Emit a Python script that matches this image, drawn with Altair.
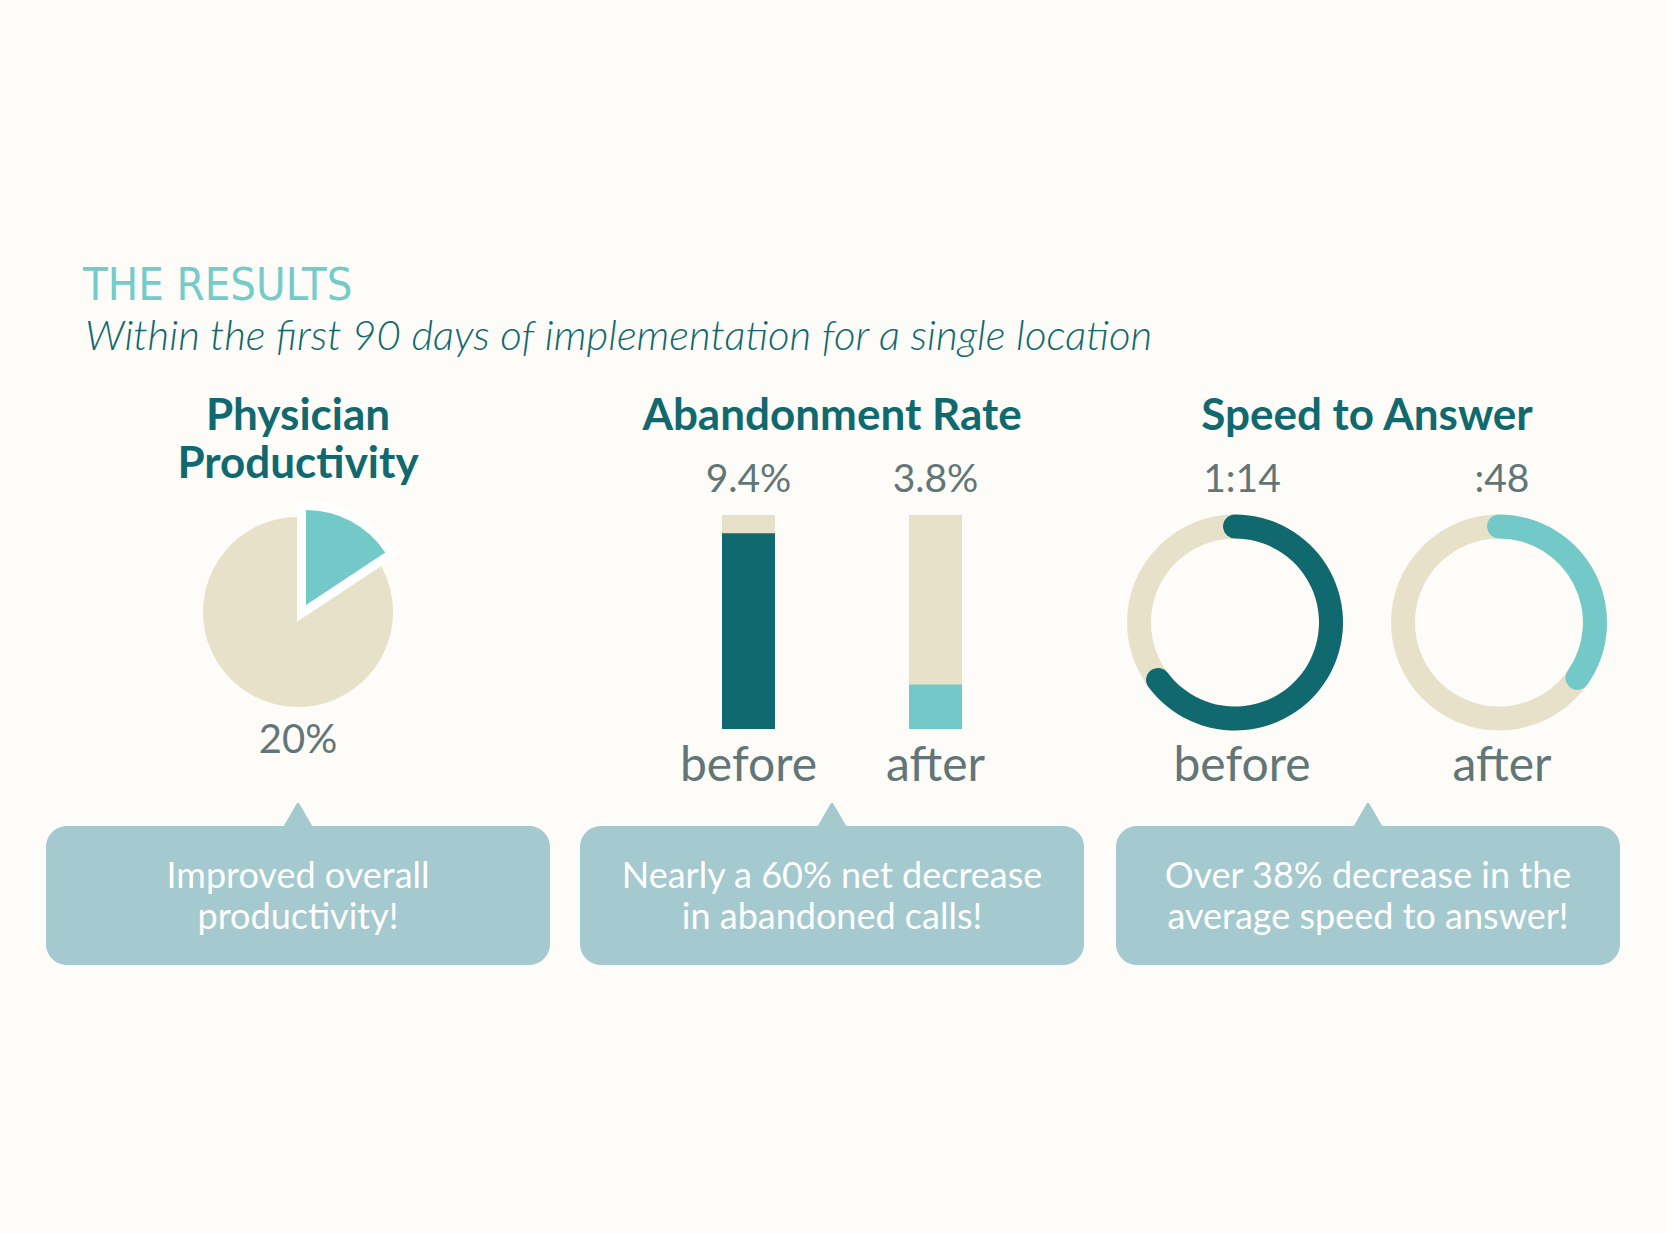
import math
import altair as alt
import pandas as pd

W, H = 1667, 1234
BG = "#FDFCF8"
DARK = "#10696F"
TEAL = "#72C9C8"
BEIGE = "#E8E1CA"
GRAY = "#627577"
BUBBLE = "#A4C9CE"
TITLE_C = "#74CBCA"
FONT = "Lato"

# ---------------- data ----------------
title = "THE RESULTS"
subtitle = "Within the first 90 days of implementation for a single location"
headings = ["Physician\nProductivity", "Abandonment Rate", "Speed to Answer"]
bubble_texts = [
    "Improved overall\nproductivity!",
    "Nearly a 60% net decrease\nin abandoned calls!",
    "Over 38% decrease in the\naverage speed to answer!",
]

pie_parts = ["gain", "rest"]
pie_share = [15.7, 84.3]
pie_label = "20%"

bar_phase = ["before", "after"]
bar_labels = ["9.4%", "3.8%"]
bar_fill = [91.5, 20.8]

ring_phase = ["before", "after"]
ring_labels = ["1:14", ":48"]
ring_fill = [64.8, 34.8]

# ---------------- helpers ----------------
ONE = alt.Data(values=[{}])
TAU = 2 * math.pi
theta_scale = alt.Scale(domain=[0, 100], range=[0, TAU])

VAL_SIZE = 39
PHASE_SIZE = 48


def text(x, y, s, size, color, weight="normal", style="normal", font=FONT,
         align="center", line_height=None):
    kw = dict(font=font, fontSize=size, color=color, fontWeight=weight,
              fontStyle=style, align=align, baseline="alphabetic")
    if "\n" in s:
        kw["lineBreak"] = "\n"
        kw["lineHeight"] = line_height or size * 1.2
    return alt.Chart(ONE).mark_text(**kw).encode(
        x=alt.value(x), y=alt.value(y), text=alt.value(s))


layers = []

# title / subtitle
layers.append(text(83, 300, title, 45, TITLE_C, weight="normal",
                   font="DejaVu Sans Condensed, Liberation Sans Narrow, sans-serif",
                   align="left"))
layers.append(text(85, 350, subtitle, 42, DARK, weight=300, style="italic",
                   align="left"))

# headings
head_x = [298, 832, 1367]
layers.append(text(head_x[0], 430, headings[0], 44, DARK, weight="bold",
                   line_height=48))
layers.append(text(head_x[1], 430, headings[1], 44, DARK, weight="bold"))
layers.append(text(head_x[2], 430, headings[2], 44, DARK, weight="bold"))

# ---------------- pie ----------------
pie_df = pd.DataFrame({"part": pie_parts, "share": pie_share})
pie_df["end"] = pie_df["share"].cumsum()
pie_df["start"] = pie_df["end"] - pie_df["share"]

pie_base = alt.Chart(pie_df)
PCX, PCY = 298, 612
layers.append(
    pie_base.transform_filter("datum.part == 'rest'")
    .mark_arc(outerRadius=95, fill=BEIGE)
    .encode(theta=alt.Theta("start:Q", scale=theta_scale), theta2="end:Q",
            x=alt.value(PCX), y=alt.value(PCY)))
layers.append(
    pie_base.transform_filter("datum.part == 'gain'")
    .mark_arc(outerRadius=95, fill="white", stroke="white", strokeWidth=18,
              strokeJoin="miter")
    .encode(theta=alt.Theta("start:Q", scale=theta_scale), theta2="end:Q",
            x=alt.value(PCX + 8), y=alt.value(PCY - 7)))
layers.append(
    pie_base.transform_filter("datum.part == 'gain'")
    .mark_arc(outerRadius=95, fill=TEAL)
    .encode(theta=alt.Theta("start:Q", scale=theta_scale), theta2="end:Q",
            x=alt.value(PCX + 8), y=alt.value(PCY - 7)))
layers.append(text(PCX, 753, pie_label, 40, GRAY))

# ---------------- bars ----------------
bar_df = pd.DataFrame({"phase": bar_phase, "label": bar_labels,
                       "fill": bar_fill, "full": [100] * len(bar_phase)})
bx = alt.X("phase:N", axis=None,
           scale=alt.Scale(domain=bar_phase, range=[722, 962],
                           paddingInner=0.7166, paddingOuter=0))
yscale = alt.Scale(domain=[0, 100], range=[729, 515])
bars_base = alt.Chart(bar_df)
layers.append(bars_base.mark_bar(fill=BEIGE).encode(
    x=bx, y=alt.Y("full:Q", scale=yscale, axis=None)))
layers.append(bars_base.mark_bar().encode(
    x=bx, y=alt.Y("fill:Q", scale=yscale, axis=None),
    color=alt.Color("phase:N", scale=alt.Scale(domain=bar_phase,
                                               range=[DARK, TEAL]),
                    legend=None)))
layers.append(bars_base.mark_text(font=FONT, fontSize=VAL_SIZE, color=GRAY,
                                  baseline="alphabetic").encode(
    x=bx, y=alt.value(492), text="label:N"))
layers.append(bars_base.mark_text(font=FONT, fontSize=PHASE_SIZE, color=GRAY,
                                  baseline="alphabetic").encode(
    x=bx, y=alt.value(781), text="phase:N"))

# ---------------- rings ----------------
CAP = (12 / 96) / TAU * 100  # round-cap extension in percent of circle
ring_df = pd.DataFrame({"phase": ring_phase, "label": ring_labels,
                        "fill": ring_fill})
ring_df["start"] = -CAP
ring_df["end"] = ring_df["fill"] + CAP
ring_df["t0"] = 0
ring_df["t1"] = 100
ring_x = [1235, 1499]
ring_y = 622.5
ring_colors = [DARK, TEAL]
label_x = [1242, 1502]
for i, ph in enumerate(ring_phase):
    rb = alt.Chart(ring_df).transform_filter(f"datum.phase == '{ph}'")
    layers.append(rb.mark_arc(innerRadius=84, outerRadius=108, fill=BEIGE).encode(
        theta=alt.Theta("t0:Q", scale=theta_scale), theta2="t1:Q",
        x=alt.value(ring_x[i]), y=alt.value(ring_y)))
    layers.append(rb.mark_arc(innerRadius=84, outerRadius=108, cornerRadius=12,
                              fill=ring_colors[i]).encode(
        theta=alt.Theta("start:Q", scale=theta_scale), theta2="end:Q",
        x=alt.value(ring_x[i]), y=alt.value(ring_y)))
    layers.append(rb.mark_text(font=FONT, fontSize=VAL_SIZE, color=GRAY,
                               baseline="alphabetic").encode(
        x=alt.value(label_x[i]), y=alt.value(492), text="label:N"))
    layers.append(rb.mark_text(font=FONT, fontSize=PHASE_SIZE, color=GRAY,
                               baseline="alphabetic").encode(
        x=alt.value(label_x[i]), y=alt.value(781), text="phase:N"))

# ---------------- speech bubbles ----------------
bub_x = [(46, 550), (580, 1084), (1116, 1620)]
BY0, BY1 = 826, 965
for i, (x0, x1) in enumerate(bub_x):
    cx = (x0 + x1) / 2
    layers.append(alt.Chart(ONE).mark_rect(fill=BUBBLE, cornerRadius=21).encode(
        x=alt.value(x0), x2=alt.value(x1), y=alt.value(BY0), y2=alt.value(BY1)))
    layers.append(alt.Chart(ONE).mark_point(
        shape="triangle-up", filled=True, fill=BUBBLE, stroke=BUBBLE,
        strokeWidth=3, strokeJoin="round", size=1000, opacity=1).encode(
        x=alt.value(cx), y=alt.value(818)))
    layers.append(text(cx, 888, bubble_texts[i], 36, "white", weight="normal",
                       line_height=41))

chart = alt.layer(*layers).properties(
    width=W, height=H, padding=0, background=BG,
    autosize=alt.AutoSizeParams(type="none"),
).configure_view(stroke=None)

chart.save("out.html", embed_options={"renderer": "svg", "actions": False})
